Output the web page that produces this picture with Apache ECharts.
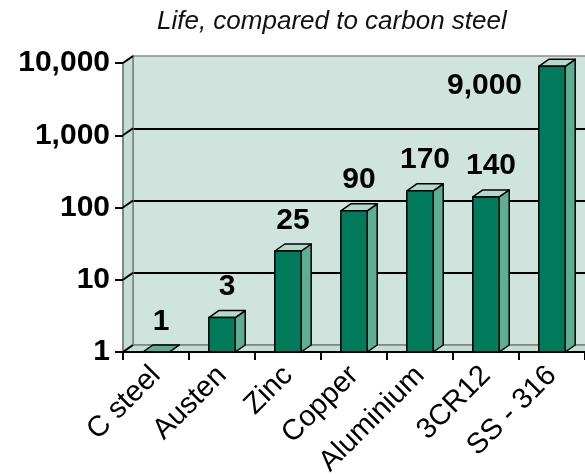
<!DOCTYPE html>
<html>
<head>
<meta charset="utf-8">
<script src="https://cdn.jsdelivr.net/npm/echarts@6/dist/echarts.min.js"></script>
<style>
html, body { margin: 0; padding: 0; background: #fff; }
#chart { width: 585px; height: 475px; }
</style>
</head>
<body>
<div id="chart"></div>
<script>
const categories = ['C steel', 'Austen', 'Zinc', 'Copper', 'Aluminium', '3CR12', 'SS - 316']
const lifeValues = [1, 3, 25, 90, 170, 140, 9000]
const valueLabels = ['1', '3', '25', '90', '170', '140', '9,000']
const yTicks = [1, 10, 100, 1000, 10000]
const yTickLabels = ['1', '10', '100', '1,000', '10,000']

const FONT = '"Liberation Sans", Arial, Helvetica, sans-serif'
const FRONT = '#007a5a'
const SIDE = '#5fae93'
const TOP = '#b2d9cb'
const WALL = '#c3ded4'
const BACK = '#cfe4dc'
// fake 3d depth
const DX = 10, DY = -7
const gLeft = 123, gTop = 63, gBottom = 123
const W = 585, H = 475
const floorY = H - gBottom
const LABEL_SIZE = 30

const chart = echarts.init(document.getElementById('chart'))

const renderBar = (params, api) => {
  const i = api.value(0)
  const v = api.value(1)
  const top = api.coord([i, v])
  const base = api.coord([i, 1])
  const w = api.size([1, 0], [i, v])[0] * 0.4
  const x0 = top[0] - w / 2, x1 = top[0] + w / 2
  const y0 = top[1], y1 = base[1]
  const stroke = { stroke: '#000', lineWidth: 1.5, lineJoin: 'round' }
  const fits = y0 - 16 - LABEL_SIZE > gTop
  const text = {
    style: { text: valueLabels[params.dataIndex], font: 'bold ' + LABEL_SIZE + 'px ' + FONT, fill: '#000' }
  }
  let textConfig
  if (fits) {
    textConfig = { position: 'top', distance: 15, offset: [5, 0] }
  } else {
    text.style.align = 'right'
    text.style.verticalAlign = 'middle'
    textConfig = { position: [-16, 20] }
  }
  return {
    type: 'group',
    children: [
      { type: 'polygon', shape: { points: [[x1, y1], [x1 + DX, y1 + DY], [x1 + DX, y0 + DY], [x1, y0]] },
        style: Object.assign({ fill: SIDE }, stroke) },
      { type: 'polygon', shape: { points: [[x0, y0], [x0 + DX, y0 + DY], [x1 + DX, y0 + DY], [x1, y0]] },
        style: Object.assign({ fill: y1 - y0 < 1 ? SIDE : TOP }, stroke) },
      { type: 'rect', shape: { x: x0, y: y0, width: w, height: y1 - y0 },
        style: Object.assign({ fill: FRONT }, stroke),
        textContent: text, textConfig: textConfig }
    ]
  }
}

chart.setOption({
  animation: false,
  title: {
    text: 'Life, compared to carbon steel',
    left: 157, top: 9, padding: 0,
    textStyle: { fontFamily: FONT, fontSize: 26, fontStyle: 'italic', fontWeight: 'normal', color: '#111' }
  },
  grid: [
    { left: gLeft, top: gTop, right: 0, bottom: gBottom, outerBoundsMode: 'none', containLabel: false },
    { left: gLeft + DX, top: gTop + DY, right: -DX, bottom: gBottom - DY, outerBoundsMode: 'none',
      show: true, backgroundColor: BACK, borderColor: '#8a8a8a', borderWidth: 1.5 }
  ],
  xAxis: [
    {
      gridIndex: 0, type: 'category', data: categories, z: 5,
      axisLine: { lineStyle: { color: '#000', width: 2 } },
      axisTick: { show: true, length: 8, interval: 0, lineStyle: { color: '#000', width: 2 } },
      axisLabel: { interval: 0, rotate: 45, margin: 19, color: '#000', fontFamily: FONT, fontSize: 29 }
    },
    { gridIndex: 1, type: 'category', data: categories, show: false }
  ],
  yAxis: [
    {
      gridIndex: 0, type: 'log', logBase: 10, min: 1, max: 10000, z: 5,
      axisLine: { show: true, lineStyle: { color: '#7f7f7f', width: 1.5 } },
      axisTick: { show: true, length: 8, lineStyle: { color: '#000', width: 2 } },
      splitLine: { show: false },
      axisLabel: {
        margin: 13, color: '#000', fontFamily: FONT, fontSize: LABEL_SIZE, fontWeight: 'bold',
        formatter: v => yTickLabels[yTicks.indexOf(Math.round(v))]
      }
    },
    {
      gridIndex: 1, type: 'log', logBase: 10, min: 1, max: 10000,
      axisLine: { show: false }, axisTick: { show: false }, axisLabel: { show: false },
      splitLine: { show: true, showMinLine: false, showMaxLine: false, lineStyle: { color: '#000', width: 2 } }
    }
  ],
  series: [{
    type: 'custom',
    coordinateSystem: 'cartesian2d',
    xAxisIndex: 0, yAxisIndex: 0,
    data: lifeValues.map((v, i) => [i, v]),
    renderItem: renderBar,
    clip: false,
    z: 2
  }]
})

// side wall, floor and the little tick joints on the wall
const joints = yTicks.map(t => {
  const y = chart.convertToPixel({ yAxisIndex: 0 }, t)
  return { type: 'line', z: 6, shape: { x1: gLeft, y1: y, x2: gLeft + DX, y2: y + DY },
    style: { stroke: '#000', lineWidth: 2 } }
})
chart.setOption({
  graphic: [
    { type: 'polygon', z: 1,
      shape: { points: [[gLeft, gTop], [gLeft + DX, gTop + DY], [gLeft + DX, floorY + DY], [gLeft, floorY]] },
      style: { fill: WALL, stroke: '#7f7f7f', lineWidth: 1.5 } },
    { type: 'polygon', z: 1,
      shape: { points: [[gLeft, floorY], [gLeft + DX, floorY + DY], [W + 20, floorY + DY], [W + 20, floorY]] },
      style: { fill: WALL, stroke: '#7f7f7f', lineWidth: 1.5 } }
  ].concat(joints)
})
</script>
</body>
</html>
